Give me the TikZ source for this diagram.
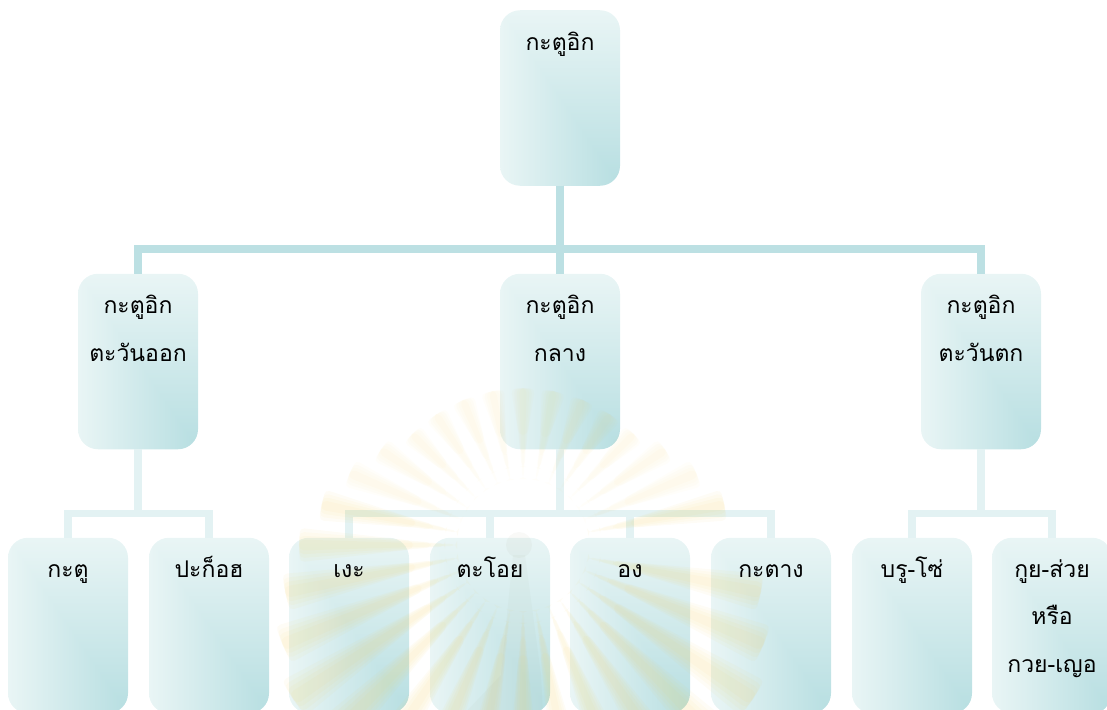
\documentclass[tikz,border=0pt]{standalone}
\usepackage{fontspec}
\newfontfamily\thaifont[Script=Thai]{Loma}
\definecolor{trunkcolor}{HTML}{BCE0E3}
\definecolor{branchcolor}{HTML}{E3F2F3}
\definecolor{raycolor}{HTML}{F3D060}
\definecolor{towercolor}{HTML}{8A8A6A}
%Light towards the top and the left, dark in the lower right corner
\pgfdeclarefunctionalshading{boxfade}{\pgfpoint{-50bp}{-50bp}}{\pgfpoint{50bp}{50bp}}{}{
	25 exch sub 50 div exch 25 add 50 div
	2 copy gt {exch} if pop
	1.05 mul dup 1 gt {pop 1} if
	dup dup
	.189 mul .914 exch sub 3 1 roll
	.086 mul .961 exch sub exch
	.075 mul .961 exch sub
}
\tikzset{
BOX/.style={draw=none,shading=boxfade,rounded corners=20pt,inner sep=0pt,minimum width=120pt,minimum height=175.5pt},
BOXTEXT/.style={anchor=north,inner sep=0pt,align=center,text=black,font=\thaifont\fontsize{23}{47.5}\selectfont,execute at begin node=\strut},
TRUNK/.style={draw=trunkcolor,line width=8pt},
BRANCH/.style={draw=branchcolor,line width=7.5pt},
RAY/.style={fill=raycolor,draw=none,rounded corners=5pt},
}
\begin{document}
\begin{tikzpicture}
[x=1pt,y=1pt]
	\useasboundingbox (0,-709) rectangle (1107,0);
	\clip (0,-709) rectangle (1107,0);
	%Boxes
	\node[BOX] (root) at (560,-98) {};
	\node[BOX] (east) at (138,-361.5) {};
	\node[BOX] (mid) at (560,-361.5) {};
	\node[BOX] (west) at (981,-361.5) {};
	\node[BOX] (katu) at (68,-625.5) {};
	\node[BOX] (pakoh) at (209,-625.5) {};
	\node[BOX] (nge) at (349,-625.5) {};
	\node[BOX] (tayoi) at (490,-625.5) {};
	\node[BOX] (ong) at (630,-625.5) {};
	\node[BOX] (katang) at (771,-625.5) {};
	\node[BOX] (bruso) at (912,-625.5) {};
	\node[BOX] (kuy) at (1052,-625.5) {};
	%Connectors
	\draw[TRUNK] (root.south) -- (mid.north);
	\draw[TRUNK] (root.south) -- ++(0,-63) -| (east.north);
	\draw[TRUNK] (root.south) -- ++(0,-63) -| (west.north);
	\foreach \leaf in {katu,pakoh} {
		\draw[BRANCH] (east.south) -- ++(0,-64) -| (\leaf.north);
	}
	\foreach \leaf in {nge,tayoi,ong,katang} {
		\draw[BRANCH] (mid.south) -- ++(0,-64) -| (\leaf.north);
	}
	\foreach \leaf in {bruso,kuy} {
		\draw[BRANCH] (west.south) -- ++(0,-64) -| (\leaf.north);
	}
	%Watermark
	\begin{scope}[shift={(523,-545)}]
		\foreach \k in {1,...,31} {
			\pgfmathsetmacro{\ang}{11.25*\k}
			\pgfmathsetmacro{\rad}{157+95*max(0,0.707-sin(\ang))}
			\pgfmathsetmacro{\alp}{sin(\ang)>0.2 ? 0.03 : 0.055}
			\foreach \w/\st in {1.4/66,2.4/78,3.4/92,4.4/110} {
				\fill[RAY,fill opacity=\alp] (\ang-\w/2:\st) -- (\ang-\w:\rad) -- (\ang+\w:\rad) -- (\ang+\w/2:\st) -- cycle;
			}
		}
		\fill[towercolor,fill opacity=.05] (-4,0) circle (13);
		\fill[towercolor,fill opacity=.04] (-10,-10) -- (-22,-130) -- (-60,-170) -- (20,-170) -- (18,-130) -- (2,-10) -- cycle;
	\end{scope}
	%Labels
	\node[BOXTEXT] (roottext) at ([yshift=-6.75pt]root.north) {กะตูอิก};
	\node[BOXTEXT] (easttext) at ([yshift=-21.5pt]east.north) {กะตูอิก\\ตะวันออก};
	\node[BOXTEXT] (midtext) at ([yshift=-21.5pt]mid.north) {กะตูอิก\\กลาง};
	\node[BOXTEXT] (westtext) at ([yshift=-21.5pt]west.north) {กะตูอิก\\ตะวันตก};
	\node[BOXTEXT] (katutext) at ([yshift=-6.75pt]katu.north) {กะตู};
	\node[BOXTEXT] (pakohtext) at ([yshift=-6.75pt]pakoh.north) {ปะก็อฮ};
	\node[BOXTEXT] (ngetext) at ([yshift=-6.75pt]nge.north) {เงะ};
	\node[BOXTEXT] (tayoitext) at ([yshift=-6.75pt]tayoi.north) {ตะโอย};
	\node[BOXTEXT] (ongtext) at ([yshift=-6.75pt]ong.north) {อง};
	\node[BOXTEXT] (katangtext) at ([yshift=-6.75pt]katang.north) {กะตาง};
	\node[BOXTEXT] (brusotext) at ([yshift=-6.75pt]bruso.north) {บรู-โซ่};
	\node[BOXTEXT] (kuytext) at ([yshift=-21.5pt]kuy.north) {กูย-ส่วย\\หรือ\\กวย-เญอ};
\end{tikzpicture}
\end{document}
